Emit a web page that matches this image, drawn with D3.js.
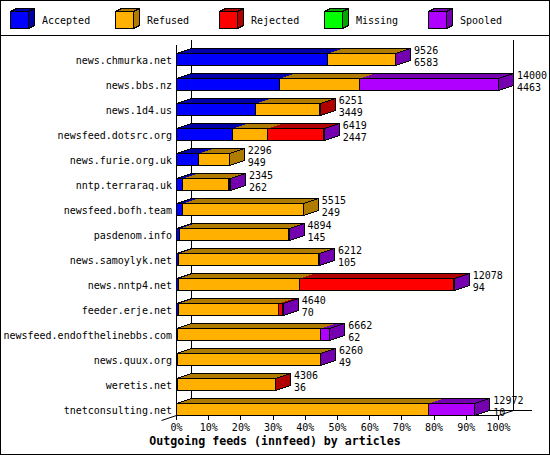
<!DOCTYPE html>
<html><head><meta charset="utf-8">
<script src="https://cdn.jsdelivr.net/npm/d3@7"></script>
<style>
html,body{margin:0;padding:0;background:#fff}
text{font-family:"DejaVu Sans Mono","Liberation Mono",monospace}
</style></head>
<body><svg id="c" width="550" height="455"></svg>
<script>
const categories = ["news.chmurka.net","news.bbs.nz","news.1d4.us","newsfeed.dotsrc.org","news.furie.org.uk","nntp.terraraq.uk","newsfeed.bofh.team","pasdenom.info","news.samoylyk.net","news.nntp4.net","feeder.erje.net","newsfeed.endofthelinebbs.com","news.quux.org","weretis.net","tnetconsulting.net"];
const offered  = [9526,14000,6251,6419,2296,2345,5515,4894,6212,12078,4640,6662,6260,4306,12972];
const accepted = [6583,4463,3449,2447,949,262,249,145,105,94,70,62,49,36,10];
const refused  = [2923,3480,2782,1496,1347,2003,5266,4714,6057,5267,4378,6178,6191,4255,10960];
const rejected = [0,0,20,2462,0,40,0,0,0,6697,172,0,0,15,0];
const missing  = [0,0,0,0,0,0,0,0,0,0,0,0,0,0,0];
const spooled  = [20,6057,0,14,0,40,0,35,50,20,20,422,20,0,2002];
const seriesNames = ["Accepted","Refused","Rejected","Missing","Spooled"];
const pctTicks = [0,10,20,30,40,50,60,70,80,90,100];
const tickLabels = ["0%","10%","20%","30%","40%","50%","60%","70%","80%","90%","100%"];
const title = "Outgoing feeds (innfeed) by articles";

const frontColors = ["#0000ff","#ffb000","#ff0000","#00ff00","#b000ff"];
const darkColors  = ["#0000a8","#b07c00","#b00000","#00a800","#7400b0"];

const svg = d3.select("#c");
svg.attr("shape-rendering","crispEdges");
svg.append("rect").attr("x",0.5).attr("y",0.5).attr("width",549).attr("height",454)
  .attr("fill","#fff").attr("stroke","#000");

// legend
const legX = d3.scaleLinear().domain([0,4]).range([10,428]);
const DX = 15, DY = 5;
seriesNames.forEach((n,i)=>{
  const g = svg.append("g").attr("transform",`translate(${Math.round(legX(i))},0)`);
  const lx=0.5, ly=11.5, lw=18, lh=17, dx=6, dy=3;
  g.append("polygon").attr("points",`${lx},${ly} ${lx+dx},${ly-dy} ${lx+lw+dx},${ly-dy} ${lx+lw},${ly}`)
    .attr("fill",darkColors[i]).attr("stroke","#000");
  g.append("polygon").attr("points",`${lx+lw},${ly} ${lx+lw+dx},${ly-dy} ${lx+lw+dx},${ly+lh-dy} ${lx+lw},${ly+lh}`)
    .attr("fill",darkColors[i]).attr("stroke","#000");
  g.append("rect").attr("x",lx).attr("y",ly).attr("width",lw).attr("height",lh)
    .attr("fill",frontColors[i]).attr("stroke","#000");
  g.append("text").attr("x",32).attr("y",23.5).attr("font-size",10).text(n);
});
svg.append("line").attr("x1",0).attr("x2",550).attr("y1",35.5).attr("y2",35.5).attr("stroke","#000");

// scales
const maxV = d3.max(offered);
const x = d3.scaleLinear().domain([0,maxV]).range([176,498]);
const xp = d3.scaleLinear().domain([0,100]).range([176,498]);
const y = d3.scaleBand().domain(categories).range([40,415]).padding(0);

// back frame
const bx0 = xp(0)+DX, bx1 = xp(100)+DX, byTop = 40, byBot = 415-DY;
const frame = svg.append("g").attr("stroke","#000").attr("fill","none");
frame.append("line").attr("x1",bx0+0.5).attr("x2",bx0+0.5).attr("y1",byTop).attr("y2",byBot+0.5);
frame.append("line").attr("x1",bx1+0.5).attr("x2",bx1+0.5).attr("y1",byTop).attr("y2",byBot+0.5);
frame.append("line").attr("x1",bx0).attr("x2",bx1+19).attr("y1",byBot+0.5).attr("y2",byBot+0.5);
frame.append("line").attr("x1",xp(0)+0.5).attr("x2",xp(0)+0.5).attr("y1",45).attr("y2",415.5);

// data table
const rows = categories.map((c,i)=>({cat:c, offered:offered[i], Accepted:accepted[i], Refused:refused[i],
  Rejected:rejected[i], Missing:missing[i], Spooled:spooled[i]}));
const stacked = d3.stack().keys(seriesNames)(rows);

// bars
rows.forEach((r,ri)=>{
  const g = svg.append("g");
  const yTop = Math.round(y(r.cat)+13)+0.5, yBot = Math.round(y(r.cat)+y.bandwidth())+0.5;
  const segs = [];
  stacked.forEach((s,si)=>{
    const d = s[ri];
    if (d[1]-d[0] > 0) segs.push({si, x0:Math.round(x(d[0]))+0.5, x1:Math.round(x(d[1]))+0.5});
  });
  // top faces
  segs.forEach(s=>{
    g.append("polygon").attr("points",`${s.x0},${yTop} ${s.x0+DX},${yTop-DY} ${s.x1+DX},${yTop-DY} ${s.x1},${yTop}`)
      .attr("fill",darkColors[s.si]).attr("stroke","none");
  });
  // front faces
  segs.forEach(s=>{
    g.append("rect").attr("x",s.x0).attr("y",yTop).attr("width",Math.max(0,s.x1-s.x0)).attr("height",yBot-yTop)
      .attr("fill",frontColors[s.si]).attr("stroke","#000");
  });
  const last = segs[segs.length-1], first = segs[0];
  g.append("polygon").attr("points",`${last.x1},${yTop} ${last.x1+DX},${yTop-DY} ${last.x1+DX},${yBot-DY} ${last.x1},${yBot}`)
    .attr("fill",darkColors[last.si]).attr("stroke","#000");
  g.append("polyline").attr("points",`${first.x0},${yTop} ${first.x0+DX},${yTop-DY} ${last.x1+DX},${yTop-DY}`)
    .attr("fill","none").attr("stroke","#000");
  // value labels
  const tx = x(r.offered)+DX+4;
  g.append("text").attr("x",tx).attr("y",yBot-12).attr("font-size",10).text(r.offered);
  g.append("text").attr("x",tx).attr("y",yBot).attr("font-size",10).text(r.Accepted);
  // category label
  svg.append("text").attr("x",172).attr("y",yBot-2).attr("text-anchor","end").attr("font-size",10).text(r.cat);
});

// front axis
const ax = svg.append("g").attr("stroke","#000");
ax.append("line").attr("x1",xp(0)).attr("x2",xp(100)+1).attr("y1",415.5).attr("y2",415.5);
ax.append("line").attr("x1",xp(100)+0.5).attr("y1",415.5).attr("x2",bx1+0.5).attr("y2",byBot+0.5).attr("shape-rendering","auto");
ax.append("line").attr("x1",xp(0)+0.5).attr("y1",415.5).attr("x2",xp(0)-DX+0.5).attr("y2",420.5).attr("shape-rendering","auto");
pctTicks.forEach((p,i)=>{
  ax.append("line").attr("x1",Math.round(xp(p))+0.5).attr("x2",Math.round(xp(p))+0.5).attr("y1",415).attr("y2",420);
  svg.append("text").attr("x",xp(p)+0.5).attr("y",431).attr("text-anchor","middle").attr("font-size",10).text(tickLabels[i]);
});
svg.append("text").attr("x",275).attr("y",445).attr("text-anchor","middle").attr("font-size",11.6)
  .attr("font-weight","bold").text(title);
</script></body></html>
